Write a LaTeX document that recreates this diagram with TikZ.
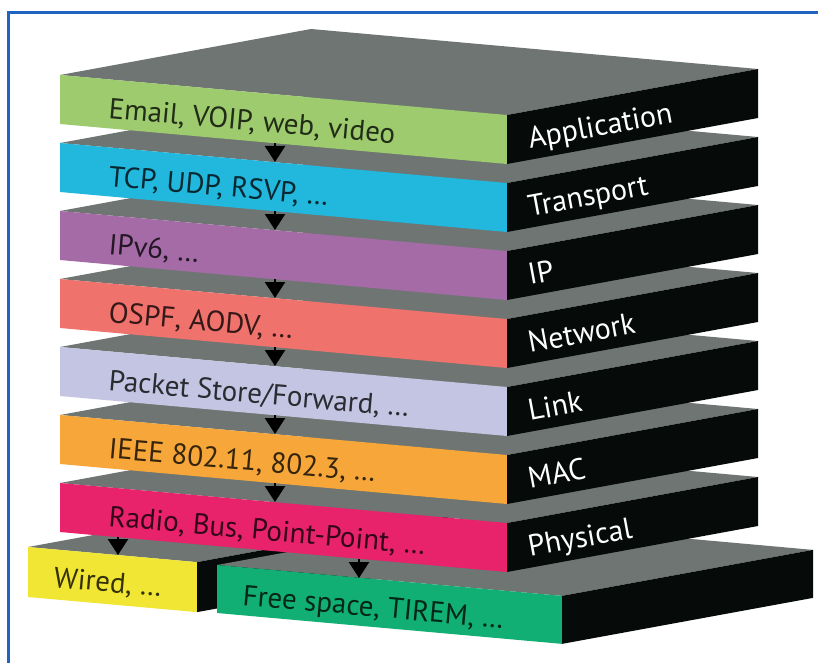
\documentclass[tikz,border=0pt]{standalone}
\usepackage{fontspec}
\setmainfont{PT Sans}
\usetikzlibrary{arrows.meta}
\definecolor{topgray}{HTML}{6E7572}
\definecolor{sideblack}{HTML}{060B09}
\definecolor{frameblue}{HTML}{1E64C0}
\definecolor{appgreen}{HTML}{9DCB6E}
\definecolor{tranblue}{HTML}{22B7DD}
\definecolor{ippurple}{HTML}{A56BA7}
\definecolor{netred}{HTML}{F0726C}
\definecolor{linklav}{HTML}{C3C5E2}
\definecolor{macorange}{HTML}{F7A73A}
\definecolor{phypink}{HTML}{E8226B}
\definecolor{wiredyel}{HTML}{F2E634}
\definecolor{freegreen}{HTML}{12AF74}
% one slab: corner x, corner y, front width, height, colour
\newcommand{\slab}[5]{%
  \fill[topgray] (#1,#2) -- ++(#3,{#3*0.0895}) -- ++(251,-46) -- ++({-#3},{-#3*0.0895}) -- cycle;
  \fill[#5] (#1,#2) -- ++(#3,{#3*0.0895}) -- ++(0,#4) -- ++({-#3},{-#3*0.0895}) -- cycle;
  \fill[sideblack] (#1,#2) ++(#3,{#3*0.0895}) -- ++(251,-46) -- ++(0,#4) -- ++(-251,46) -- cycle;
}
\begin{document}
\begin{tikzpicture}[x=1pt,y=-1pt,
  front/.style={anchor=base west,inner sep=0pt,rotate=-5.1,font=\fontsize{29}{30}\selectfont},
  side/.style={anchor=base west,inner sep=0pt,rotate=10.5,text=white,font=\fontsize{30}{30}\selectfont},
  flow/.style={line width=2.5pt,-{Triangle[length=16pt,width=20pt]}}]
\useasboundingbox (0,0) rectangle (818,663);
\fill[white] (0,0) rectangle (818,663);
\draw[frameblue,line width=3pt] (8,663) -- (8,13) -- (818,13);
% media slabs at the foot
\slab{28}{547}{169}{50}{wiredyel}
\node[front,text=wiredyel!22!black] (wired) at (53,587) {Wired, \dots};
\coordinate (wiredin) at (118,555);
\slab{217}{565}{345}{48}{freegreen}
\node[front,text=freegreen!22!black] (free) at (242,605) {Free space, TIREM, \dots};
\coordinate (freein) at (359,578);
% the stack, lowest layer first
\foreach \k/\col/\txt/\lbl in {6/phypink/{Radio, Bus, Point-Point, \dots}/Physical,
    5/macorange/{IEEE 802.11, 802.3, \dots}/MAC,
    4/linklav/{Packet Store/Forward, \dots}/Link,
    3/netred/{OSPF, AODV, \dots}/Network,
    2/ippurple/{IPv6, \dots}/IP,
    1/tranblue/{TCP, UDP, RSVP, \dots}/Transport,
    0/appgreen/{Email, VOIP, web, video}/Application}{
  \pgfmathsetmacro\y{75+68*\k}
  \slab{60}{\y}{447}{49}{\col}
  \node[front,text=\col!22!black] (txt\k) at (108,\y+43) {\txt};
  \node[side] (lbl\k) at (530,\y+74) {\lbl};
  \coordinate (in\k) at (275,\y+19);
  \coordinate (out\k) at (275,\y+68);
}
\coordinate (phyoutA) at (118,537);
\coordinate (phyoutB) at (359,559);
% arrows between layers
\foreach \k/\j in {0/1,1/2,2/3,3/4,4/5,5/6}
  \draw[flow] (out\k) -- (in\j);
\draw[flow] (phyoutA) -- (wiredin);
\draw[flow] (phyoutB) -- (freein);
\end{tikzpicture}
\end{document}
